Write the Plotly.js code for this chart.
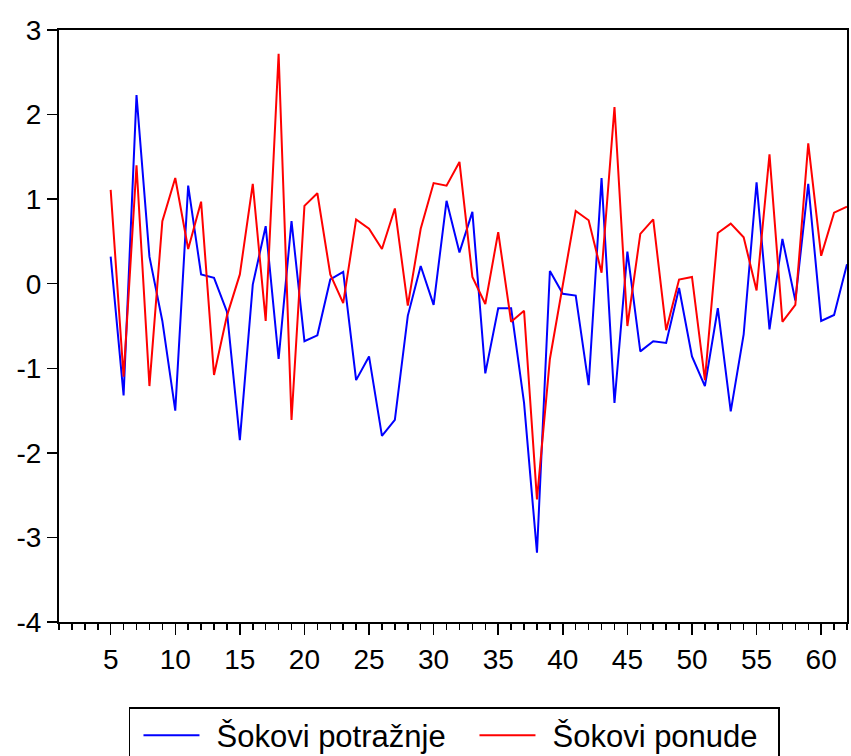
<!DOCTYPE html>
<html>
<head>
<meta charset="utf-8">
<script src="https://cdn.plot.ly/plotly-3.0.1.min.js"></script>
<style>html,body{margin:0;padding:0;background:#fff;}#chart{width:851px;height:756px;}</style>
</head>
<body>
<div id="chart"></div>
<script>
const periods = [5,6,7,8,9,10,11,12,13,14,15,16,17,18,19,20,21,22,23,24,25,26,27,28,29,30,31,32,33,34,35,36,37,38,39,40,41,42,43,44,45,46,47,48,49,50,51,52,53,54,55,56,57,58,59,60,61,62];
const demandShocks = [0.32,-1.32,2.23,0.32,-0.44,-1.50,1.16,0.11,0.07,-0.33,-1.85,-0.01,0.68,-0.89,0.74,-0.68,-0.61,0.05,0.14,-1.14,-0.86,-1.80,-1.61,-0.38,0.21,-0.25,0.98,0.37,0.85,-1.06,-0.29,-0.29,-1.41,-3.18,0.15,-0.12,-0.14,-1.20,1.25,-1.41,0.38,-0.80,-0.68,-0.70,-0.05,-0.86,-1.21,-0.29,-1.51,-0.60,1.20,-0.54,0.53,-0.20,1.18,-0.44,-0.37,0.23];
const supplyShocks = [1.11,-1.10,1.40,-1.21,0.74,1.25,0.41,0.97,-1.08,-0.38,0.11,1.18,-0.44,2.72,-1.61,0.92,1.07,0.11,-0.23,0.76,0.65,0.41,0.89,-0.26,0.65,1.19,1.16,1.44,0.08,-0.24,0.61,-0.45,-0.32,-2.55,-0.89,0.00,0.86,0.75,0.13,2.09,-0.50,0.59,0.76,-0.55,0.05,0.08,-1.14,0.60,0.71,0.55,-0.08,1.53,-0.45,-0.25,1.66,0.33,0.84,0.91];
const xTickVals = [5,10,15,20,25,30,35,40,45,50,55,60];
const xTickText = ["5","10","15","20","25","30","35","40","45","50","55","60"];
const yTickVals = [-4,-3,-2,-1,0,1,2,3];
const yTickText = ["-4","-3","-2","-1","0","1","2","3"];
const seriesNames = ["Šokovi potražnje","Šokovi ponude"];

const traces = [
  {x: periods, y: demandShocks, type:'scatter', mode:'lines', name: seriesNames[0], line:{color:'#0000ff', width:2}},
  {x: periods, y: supplyShocks, type:'scatter', mode:'lines', name: seriesNames[1], line:{color:'#ff0000', width:2}}
];

const layout = {
  width: 851, height: 756,
  paper_bgcolor:'#ffffff', plot_bgcolor:'#ffffff',
  margin:{l:59, r:4, t:30, b:134, autoexpand:false},
  font:{family:'Liberation Sans, Arial, sans-serif', color:'#000000'},
  showlegend:true,
  xaxis:{
    range:[1,62], showgrid:false, zeroline:false,
    showline:true, linecolor:'#000000', linewidth:2, mirror:true,
    ticks:'outside', ticklen:11, tickwidth:1.5, tickcolor:'#000000',
    tickvals: xTickVals, ticktext: xTickText,
    tickfont:{size:28, family:'Liberation Sans, Arial, sans-serif'},
    minor:{tick0:0, dtick:1, ticks:'outside', ticklen:6, tickwidth:1.5, tickcolor:'#000000', showgrid:false}
  },
  yaxis:{
    range:[-4,3], showgrid:false, zeroline:false,
    showline:true, linecolor:'#000000', linewidth:2, mirror:true,
    ticks:'outside', ticklen:10, tickwidth:1.5, tickcolor:'#000000',
    tickvals: yTickVals, ticktext: yTickText,
    tickfont:{size:28, family:'Liberation Sans, Arial, sans-serif'}
  },
  legend:{
    orientation:'h', x:0.0888, xanchor:'left', y:-0.1436, yanchor:'top',
    bordercolor:'#000000', borderwidth:1.5, bgcolor:'#ffffff',
    font:{size:31, family:'Liberation Sans, Arial, sans-serif'},
    itemwidth:76, entrywidth:245, entrywidthmode:'pixels'
  }
};

Plotly.newPlot('chart', traces, layout, {staticPlot:true, displayModeBar:false}).then(function(gd){
  gd.querySelectorAll('.legendlines path').forEach(function(p){ p.setAttribute('d','M13,0h56'); });
  var bg = gd.querySelector('.legend rect.bg');
  if (bg) {
    var w = parseFloat(bg.getAttribute('width'));
    if (!isNaN(w)) bg.setAttribute('width', w - 24);
  }
});
</script>
</body>
</html>
